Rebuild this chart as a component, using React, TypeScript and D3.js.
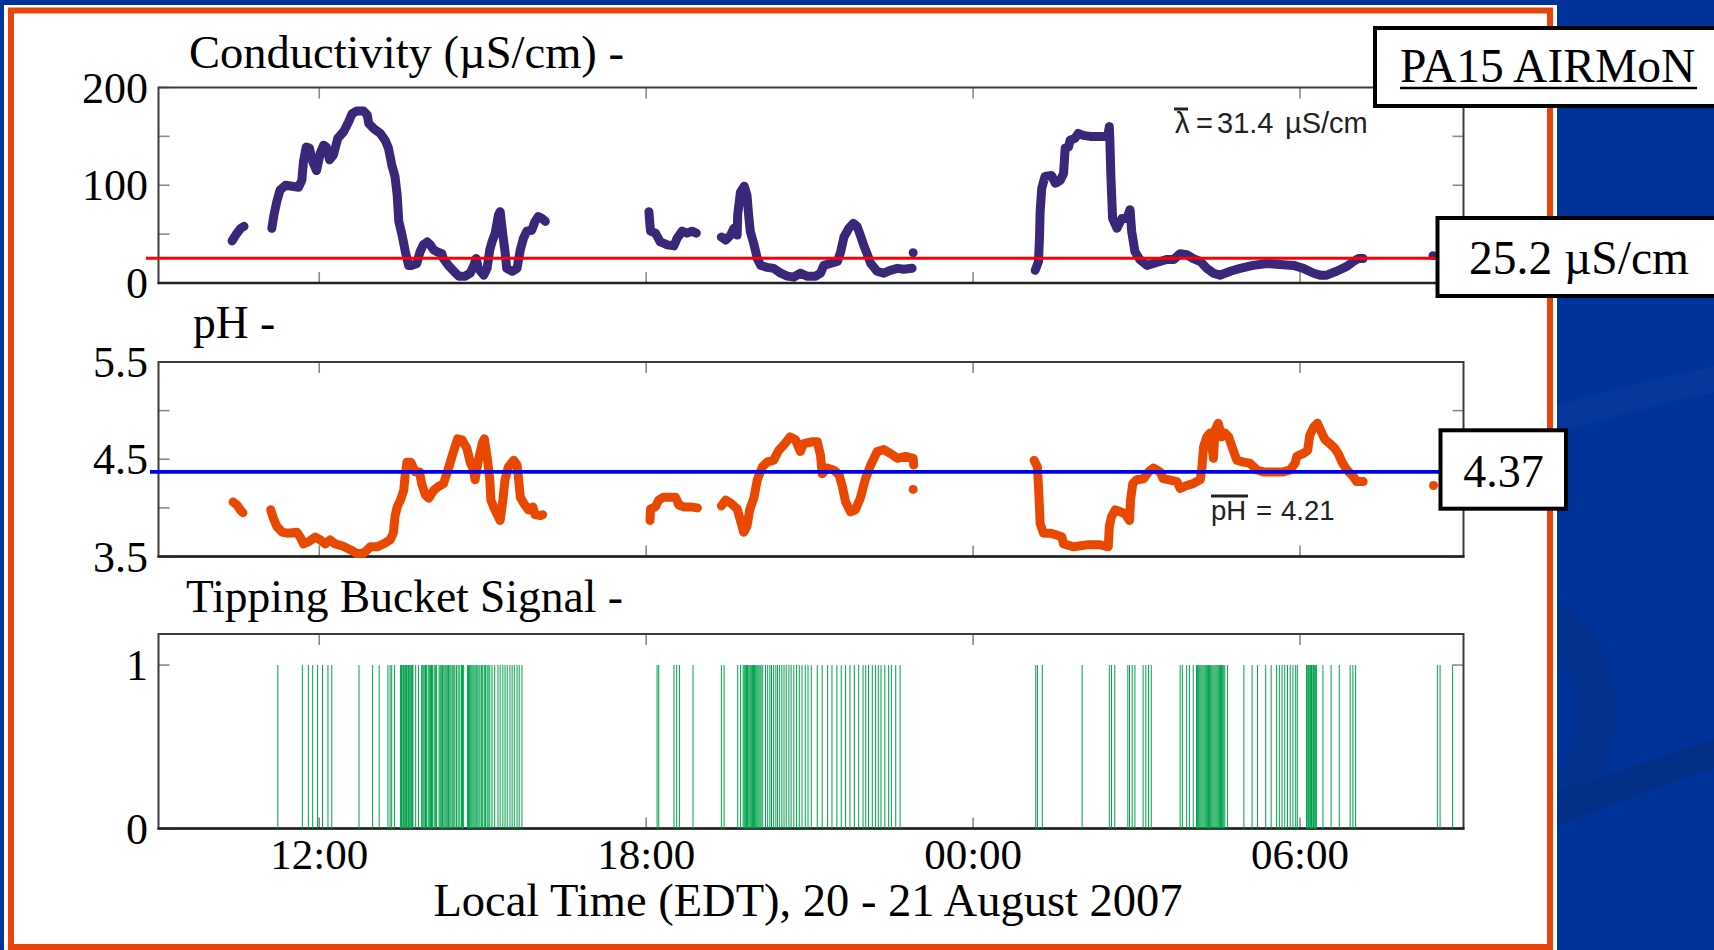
import React from "react";
import * as d3 from "d3";

// ---------- data (hours since 2007-08-20 00:00 EDT, value) ----------
const condSeg1a = [[10.40, 43], [10.49, 51], [10.56, 56], [10.62, 58]];
const condSeg1b = [
  [11.13, 56], [11.17, 70], [11.22, 83], [11.28, 95], [11.38, 100], [11.50, 99], [11.62, 98], [11.68, 105],
  [11.71, 124], [11.76, 139], [11.82, 138], [11.88, 124], [11.95, 115], [12.02, 133], [12.08, 141], [12.13, 139],
  [12.19, 126], [12.26, 131], [12.34, 148], [12.45, 155], [12.54, 165], [12.60, 173], [12.69, 176], [12.81, 176],
  [12.88, 172], [12.91, 163], [13.00, 158], [13.12, 153], [13.21, 146], [13.27, 138], [13.33, 121], [13.39, 109],
  [13.43, 90], [13.46, 63], [13.52, 49], [13.58, 32], [13.64, 18], [13.70, 18], [13.79, 20], [13.85, 32],
  [13.91, 39], [13.98, 42], [14.04, 39], [14.10, 34], [14.16, 32], [14.25, 30], [14.28, 25], [14.37, 18],
  [14.47, 12], [14.56, 7], [14.68, 7], [14.77, 10], [14.83, 17], [14.88, 25], [14.92, 15], [15.02, 8],
  [15.08, 15], [15.13, 34], [15.17, 42], [15.23, 51], [15.29, 70], [15.32, 73], [15.37, 49], [15.41, 32],
  [15.44, 15], [15.54, 12], [15.63, 15], [15.69, 34], [15.75, 46], [15.81, 53], [15.90, 54], [15.96, 63],
  [16.02, 68], [16.09, 66], [16.15, 63],
];
const condSeg2a = [
  [18.05, 73], [18.07, 59], [18.08, 53], [18.17, 51], [18.26, 42], [18.39, 39], [18.51, 38], [18.57, 46],
  [18.66, 53], [18.75, 51], [18.84, 53], [18.92, 51],
];
const condSeg2b = [
  [19.38, 47], [19.46, 44], [19.55, 49], [19.61, 56], [19.67, 49], [19.68, 70], [19.73, 93], [19.80, 99],
  [19.85, 90], [19.88, 70], [19.91, 53], [19.98, 39], [20.04, 25], [20.10, 18], [20.22, 16], [20.34, 15],
  [20.47, 10], [20.59, 7], [20.71, 6], [20.83, 10], [20.95, 7], [21.11, 7], [21.20, 10], [21.26, 18],
  [21.38, 20], [21.51, 22], [21.57, 32], [21.63, 47], [21.72, 56], [21.80, 61], [21.87, 58], [21.93, 49],
  [21.99, 39], [22.06, 29], [22.12, 20], [22.24, 12], [22.36, 10], [22.48, 13], [22.61, 15], [22.73, 14],
  [22.88, 15],
];
const condSeg3 = [
  [25.14, 13], [25.20, 22], [25.22, 49], [25.23, 73], [25.26, 97], [25.32, 109], [25.44, 110], [25.51, 102],
  [25.60, 105], [25.66, 112], [25.69, 138], [25.75, 139], [25.78, 146], [25.87, 148], [25.93, 153], [26.02, 151],
  [26.15, 150], [26.33, 150], [26.47, 150], [26.50, 160], [26.51, 145], [26.53, 107], [26.56, 66], [26.64, 56],
  [26.73, 66], [26.82, 66], [26.88, 75], [26.91, 53], [26.97, 32], [27.06, 24], [27.19, 18], [27.31, 20],
  [27.43, 22], [27.55, 24], [27.68, 24], [27.80, 30], [27.92, 29], [28.04, 25], [28.17, 22], [28.29, 15],
  [28.41, 10], [28.53, 8], [28.72, 12], [28.90, 15], [29.14, 18], [29.39, 20], [29.63, 19], [29.88, 18],
  [30.06, 15], [30.25, 10], [30.37, 8], [30.49, 8], [30.67, 12], [30.86, 17], [30.98, 22], [31.07, 25],
  [31.16, 25],
];
const condDots = [[22.90, 31], [32.44, 28]];

const phSeg1a = [[10.42, 4.06], [10.49, 4.03], [10.55, 3.98], [10.60, 3.95]];
const phSeg1b = [
  [11.11, 3.98], [11.16, 3.89], [11.22, 3.81], [11.32, 3.75], [11.41, 3.74], [11.59, 3.75], [11.65, 3.70],
  [11.71, 3.63], [11.80, 3.65], [11.93, 3.70], [12.02, 3.67], [12.11, 3.63], [12.20, 3.67], [12.29, 3.63],
  [12.42, 3.61], [12.57, 3.57], [12.69, 3.53], [12.81, 3.53], [12.94, 3.60], [13.06, 3.60], [13.18, 3.63],
  [13.30, 3.67], [13.36, 3.74], [13.39, 3.91], [13.43, 4.01], [13.49, 4.08], [13.55, 4.18], [13.58, 4.35],
  [13.61, 4.47], [13.68, 4.47], [13.76, 4.37], [13.84, 4.37], [13.88, 4.25], [13.95, 4.13], [14.01, 4.10],
  [14.10, 4.18], [14.19, 4.22], [14.28, 4.25], [14.34, 4.35], [14.40, 4.46], [14.47, 4.59], [14.54, 4.71],
  [14.62, 4.70], [14.71, 4.61], [14.77, 4.47], [14.83, 4.39], [14.86, 4.29], [14.92, 4.49], [14.99, 4.66],
  [15.03, 4.71], [15.08, 4.53], [15.13, 4.29], [15.15, 4.08], [15.20, 4.01], [15.26, 3.94], [15.32, 3.87],
  [15.37, 4.08], [15.41, 4.29], [15.47, 4.42], [15.57, 4.49], [15.63, 4.44], [15.66, 4.29], [15.69, 4.11],
  [15.75, 4.05], [15.84, 3.98], [15.92, 4.01], [15.96, 3.93], [16.06, 3.92], [16.10, 3.93],
];
const phSeg2a = [
  [18.07, 3.87], [18.08, 3.99], [18.17, 4.01], [18.23, 4.08], [18.32, 4.11], [18.45, 4.11], [18.54, 4.11],
  [18.60, 4.03], [18.69, 4.01], [18.81, 4.01], [18.94, 4.00],
];
const phSeg2b = [
  [19.38, 4.02], [19.46, 4.08], [19.55, 4.05], [19.67, 3.99], [19.73, 3.87], [19.79, 3.75], [19.85, 3.81],
  [19.90, 3.98], [19.98, 4.11], [20.04, 4.29], [20.13, 4.42], [20.22, 4.47], [20.34, 4.49], [20.43, 4.59],
  [20.53, 4.65], [20.64, 4.73], [20.74, 4.70], [20.83, 4.58], [20.89, 4.66], [21.05, 4.68], [21.14, 4.68],
  [21.20, 4.54], [21.23, 4.35], [21.32, 4.41], [21.44, 4.39], [21.54, 4.34], [21.60, 4.22], [21.66, 4.06],
  [21.75, 3.96], [21.84, 3.98], [21.93, 4.10], [22.02, 4.29], [22.12, 4.44], [22.24, 4.58], [22.36, 4.60],
  [22.48, 4.56], [22.61, 4.51], [22.76, 4.53], [22.90, 4.51], [22.91, 4.44],
];
const phSeg3 = [
  [25.12, 4.49], [25.18, 4.42], [25.20, 4.22], [25.22, 3.98], [25.23, 3.84], [25.29, 3.74], [25.41, 3.74],
  [25.54, 3.72], [25.63, 3.70], [25.66, 3.63], [25.84, 3.60], [26.09, 3.62], [26.33, 3.62], [26.48, 3.60],
  [26.50, 3.81], [26.54, 3.91], [26.61, 3.98], [26.70, 3.96], [26.79, 3.94], [26.87, 3.87], [26.89, 4.08],
  [26.93, 4.25], [27.00, 4.29], [27.13, 4.30], [27.22, 4.37], [27.31, 4.41], [27.43, 4.37], [27.49, 4.30],
  [27.58, 4.29], [27.74, 4.27], [27.80, 4.20], [27.92, 4.23], [28.04, 4.25], [28.17, 4.29], [28.20, 4.42],
  [28.23, 4.63], [28.29, 4.73], [28.35, 4.77], [28.41, 4.51], [28.44, 4.80], [28.50, 4.87], [28.56, 4.73],
  [28.62, 4.77], [28.69, 4.73], [28.75, 4.63], [28.84, 4.49], [28.96, 4.47], [29.08, 4.46], [29.21, 4.39],
  [29.33, 4.37], [29.51, 4.37], [29.69, 4.37], [29.82, 4.39], [29.91, 4.46], [29.94, 4.53], [30.06, 4.56],
  [30.14, 4.59], [30.18, 4.75], [30.25, 4.83], [30.32, 4.87], [30.40, 4.77], [30.46, 4.70], [30.55, 4.66],
  [30.64, 4.61], [30.70, 4.56], [30.77, 4.47], [30.86, 4.39], [30.98, 4.32], [31.04, 4.27], [31.16, 4.27],
];
const phDots = [[22.90, 4.19], [32.45, 4.23]];

const bucketTips1 = [
  11.24, 11.69, 11.80, 11.88, 11.97, 12.06, 12.16, 12.23, 12.73, 12.98, 13.10, 13.26, 13.30, 13.33, 13.38,
  13.49, 13.51, 13.52, 13.54, 13.55, 13.57, 13.58, 13.60, 13.61, 13.63, 13.64, 13.66, 13.68, 13.69, 13.71, 13.72,
  13.77, 13.82, 13.88, 13.90, 13.92, 13.94, 13.95, 13.97, 14.00, 14.02, 14.04, 14.06, 14.08, 14.11, 14.13, 14.15,
  14.20, 14.22, 14.24, 14.26, 14.27, 14.29, 14.31, 14.33, 14.35, 14.37, 14.38, 14.40, 14.42, 14.45, 14.47, 14.49,
  14.52, 14.55, 14.58, 14.61, 14.63, 14.65, 14.72, 14.74, 14.76, 14.78, 14.80, 14.82, 14.84, 14.86, 14.88, 14.90,
  14.93, 14.95, 14.98, 15.00, 15.03, 15.05, 15.08, 15.10, 15.13, 15.17, 15.22, 15.28, 15.32, 15.37, 15.41, 15.45,
  15.50, 15.54, 15.58, 15.63, 15.67, 15.72,
];
const bucketTips2 = [
  18.20, 18.23, 18.51, 18.56, 18.61, 18.86, 19.38, 19.43, 19.68, 19.73, 19.78, 19.80, 19.82, 19.84, 19.86, 19.87,
  19.89, 19.91, 19.93, 19.95, 19.97, 19.99, 20.01, 20.03, 20.05, 20.07, 20.09, 20.11, 20.14, 20.19, 20.23, 20.27,
  20.30, 20.34, 20.38, 20.41, 20.45, 20.49, 20.53, 20.57, 20.62, 20.66, 20.71, 20.76, 20.81, 20.86, 20.92, 20.97,
  21.03, 21.14, 21.23, 21.33, 21.41, 21.50, 21.58, 21.66, 21.74, 21.82, 21.90, 21.98, 22.03, 22.08, 22.15, 22.21,
  22.26, 22.31, 22.38, 22.45, 22.50, 22.58, 22.66,
];
const bucketTips3 = [
  25.15, 25.18, 25.27, 26.00, 26.50, 26.54, 26.60, 26.84, 26.87, 26.92, 26.97, 27.12, 27.17, 27.22, 27.27, 27.80,
  27.84, 27.92, 27.97, 28.04, 28.10, 28.12, 28.14, 28.16, 28.18, 28.20, 28.22, 28.24, 28.26, 28.28, 28.30, 28.32,
  28.34, 28.36, 28.38, 28.40, 28.42, 28.44, 28.46, 28.48, 28.50, 28.52, 28.54, 28.56, 28.58, 28.60, 28.62, 28.67,
  28.97, 29.12, 29.22, 29.37, 29.47, 29.57, 29.62, 29.67, 29.72, 29.77, 29.82, 29.87, 29.92, 29.95, 30.12, 30.13,
  30.15, 30.16, 30.18, 30.19, 30.21, 30.22, 30.24, 30.25, 30.27, 30.28, 30.30, 30.42, 30.57, 30.72, 30.92, 30.97,
  31.02, 32.52, 32.57, 32.80,
];

const condTicks = [0, 50, 100, 150, 200];
const condTickLabels = [0, 100, 200];
const phTicks = [3.5, 4, 4.5, 5, 5.5];
const phTickLabels = [3.5, 4.5, 5.5];
const bucketTicks = [0, 1];
const bucketTickLabels = [0, 1];

const condRef = 25.2;
const phRef = 4.37;
const condMean = 31.4;
const phMean = 4.21;

// ---------- layout ----------
const W = 1714;
const H = 950;
const PL = 158.5;
const PR = 1463.5;
const P1 = { top: 87.5, bottom: 283 };
const P2 = { top: 362, bottom: 556.5 };
const P3 = { top: 634, bottom: 828.5 };
const X_START = 9.05;
const X_END = 33.0;

const BASE = new Date(2007, 7, 20, 0, 0, 0).getTime();
const h2d = (h: number) => new Date(BASE + h * 3600000);

const SERIF = "'Liberation Serif', 'Times New Roman', serif";
const SANS = "'Liberation Sans', Arial, sans-serif";
const COND_COLOR = "#3b2779";
const PH_COLOR = "#e84800";
const GREEN = "#00a04c";
const ORANGE = "#e8440c";
const BG = "#003399";
const LINE_W = 9;

const x = d3.scaleTime().domain([h2d(X_START), h2d(X_END)]).range([PL, PR]);
const xTicks = x.ticks(d3.timeHour.every(6) as any);
const fmtTime = d3.timeFormat("%H:%M");

function Frame(props: {
  p: { top: number; bottom: number };
  y: d3.ScaleLinear<number, number>;
  ticks: number[];
  labels: number[];
  fmt: (v: number) => string;
}) {
  const { p, y, ticks, labels, fmt } = props;
  const TL = 11;
  return (
    <g>
      {xTicks.map((t, i) => (
        <g key={"xt" + i} stroke="#8a8a8a" strokeWidth={1.6}>
          <line x1={x(t)} x2={x(t)} y1={p.top} y2={p.top + TL} />
          <line x1={x(t)} x2={x(t)} y1={p.bottom} y2={p.bottom - TL} />
        </g>
      ))}
      {ticks.map((v, i) => (
        <g key={"yt" + i} stroke="#8a8a8a" strokeWidth={1.6}>
          <line x1={PL} x2={PL + TL} y1={y(v)} y2={y(v)} />
          <line x1={PR} x2={PR - TL} y1={y(v)} y2={y(v)} />
        </g>
      ))}
      <rect x={PL} y={p.top} width={PR - PL} height={p.bottom - p.top} fill="none" stroke="#3c3c3c" strokeWidth={2} />
      <line x1={PL - 1} x2={PR + 1} y1={p.bottom} y2={p.bottom} stroke="#222" strokeWidth={2.6} />
      {labels.map((v, i) => (
        <text key={"yl" + i} x={148} y={y(v) + 15} textAnchor="end" fontFamily={SERIF} fontSize={44} fill="#000">
          {fmt(v)}
        </text>
      ))}
    </g>
  );
}

export default function App() {
  const yC = d3.scaleLinear().domain([0, 200]).range([P1.bottom, P1.top]);
  const yP = d3.scaleLinear().domain([3.5, 5.5]).range([P2.bottom, P2.top]);
  const yB = d3.scaleLinear().domain([0, 1.19]).range([P3.bottom, P3.top]);

  const lineC = d3.line<number[]>().x((d) => x(h2d(d[0]))).y((d) => yC(d[1]));
  const lineP = d3.line<number[]>().x((d) => x(h2d(d[0]))).y((d) => yP(d[1]));

  const condSegs = [condSeg1a, condSeg1b, condSeg2a, condSeg2b, condSeg3];
  const phSegs = [phSeg1a, phSeg1b, phSeg2a, phSeg2b, phSeg3];
  const tips = [...bucketTips1, ...bucketTips2, ...bucketTips3];

  const f0 = d3.format("d");
  const f1 = d3.format(".1f");
  const f2 = d3.format(".2f");

  return (
    <svg width={W} height={H} viewBox={`0 0 ${W} ${H}`} style={{ position: "absolute", left: 0, top: 0, display: "block" }}>
      {/* background */}
      <rect x={0} y={0} width={W} height={H} fill={BG} />
      <path d="M1557,405 C1620,388 1670,376 1714,366 L1714,392 C1670,402 1620,415 1557,432 Z" fill="#07379b" />
      <circle cx={1478} cy={712} r={118} fill="none" stroke="#04318c" strokeWidth={38} />
      <path d="M1557,792 C1610,775 1660,757 1714,738 L1714,768 C1660,786 1610,805 1557,826 Z" fill="#032f86" />
      {/* slide panel */}
      <rect x={4} y={5} width={1553} height={945} fill="#fff" />
      <rect x={11} y={10.5} width={1539} height={936.5} fill="none" stroke={ORANGE} strokeWidth={6} />

      {/* titles */}
      <text x={189} y={68} fontFamily={SERIF} fontSize={46.5} fill="#000">Conductivity (µS/cm) -</text>
      <text x={193} y={338} fontFamily={SERIF} fontSize={45.5} fill="#000">pH -</text>
      <text x={186} y={612} fontFamily={SERIF} fontSize={45.5} fill="#000">Tipping Bucket Signal -</text>

      {/* frames */}
      <Frame p={P1} y={yC} ticks={condTicks} labels={condTickLabels} fmt={(v) => f0(v)} />
      <Frame p={P2} y={yP} ticks={phTicks} labels={phTickLabels} fmt={(v) => f1(v)} />
      <Frame p={P3} y={yB} ticks={bucketTicks} labels={bucketTickLabels} fmt={(v) => f0(v)} />

      {/* conductivity */}
      {condSegs.map((s, i) => (
        <path key={"c" + i} d={lineC(s) || ""} fill="none" stroke={COND_COLOR} strokeWidth={LINE_W} strokeLinejoin="round" strokeLinecap="round" />
      ))}
      {condDots.map((d, i) => (
        <circle key={"cd" + i} cx={x(h2d(d[0]))} cy={yC(d[1])} r={LINE_W / 2} fill={COND_COLOR} />
      ))}
      <line x1={146} x2={1437} y1={yC(condRef)} y2={yC(condRef)} stroke="#ff0000" strokeWidth={3} />

      {/* pH */}
      {phSegs.map((s, i) => (
        <path key={"p" + i} d={lineP(s) || ""} fill="none" stroke={PH_COLOR} strokeWidth={LINE_W} strokeLinejoin="round" strokeLinecap="round" />
      ))}
      {phDots.map((d, i) => (
        <circle key={"pd" + i} cx={x(h2d(d[0]))} cy={yP(d[1])} r={LINE_W / 2} fill={PH_COLOR} />
      ))}
      <line x1={150} x2={1440} y1={yP(phRef)} y2={yP(phRef)} stroke="#0000f0" strokeWidth={3.6} />

      {/* tipping bucket */}
      {tips.map((t, i) => (
        <line key={"b" + i} x1={x(h2d(t))} x2={x(h2d(t))} y1={yB(0)} y2={yB(1)} stroke={GREEN} strokeWidth={1} />
      ))}

      {/* x tick labels */}
      {xTicks.map((t, i) => (
        <text key={"xl" + i} x={x(t)} y={869} textAnchor="middle" fontFamily={SERIF} fontSize={43} fill="#000">
          {fmtTime(t)}
        </text>
      ))}
      <text x={(PL + PR) / 2 - 3} y={916} textAnchor="middle" fontFamily={SERIF} fontSize={46.5} fill="#000">
        Local Time (EDT), 20 - 21 August 2007
      </text>

      {/* mean annotations */}
      <g fontFamily={SANS} fill="#222">
        <line x1={1174} x2={1188} y1={109} y2={109} stroke="#222" strokeWidth={3} />
        <text y={133} fontSize={29}>
          <tspan x={1175}>λ</tspan>
          <tspan x={1196}>=</tspan>
          <tspan x={1217}>{f1(condMean)}</tspan>
          <tspan x={1285}>µS/cm</tspan>
        </text>
        <line x1={1211} x2={1248} y1={496} y2={496} stroke="#222" strokeWidth={3} />
        <text y={520} fontSize={27.5}>
          <tspan x={1211}>pH</tspan>
          <tspan x={1256}>=</tspan>
          <tspan x={1281}>{f2(phMean)}</tspan>
        </text>
      </g>

      {/* boxes */}
      <rect x={1375} y={28} width={400} height={78} fill="#fff" stroke="#000" strokeWidth={4} />
      <text x={1400} y={82} fontFamily={SERIF} fontSize={47.5} fill="#000">PA15 AIRMoN</text>
      <line x1={1400} x2={1697} y1={88} y2={88} stroke="#000" strokeWidth={2.5} />

      <rect x={1437.5} y={218} width={400} height={78} fill="#fff" stroke="#000" strokeWidth={4} />
      <text x={1469} y={274} fontFamily={SERIF} fontSize={47.5} fill="#000">{f1(condRef)} µS/cm</text>

      <rect x={1440.5} y={430.3} width={125.5} height={78.4} fill="#fff" stroke="#000" strokeWidth={4} />
      <text x={1503.5} y={487} textAnchor="middle" fontFamily={SERIF} fontSize={46} fill="#000">{f2(phRef)}</text>
    </svg>
  );
}
